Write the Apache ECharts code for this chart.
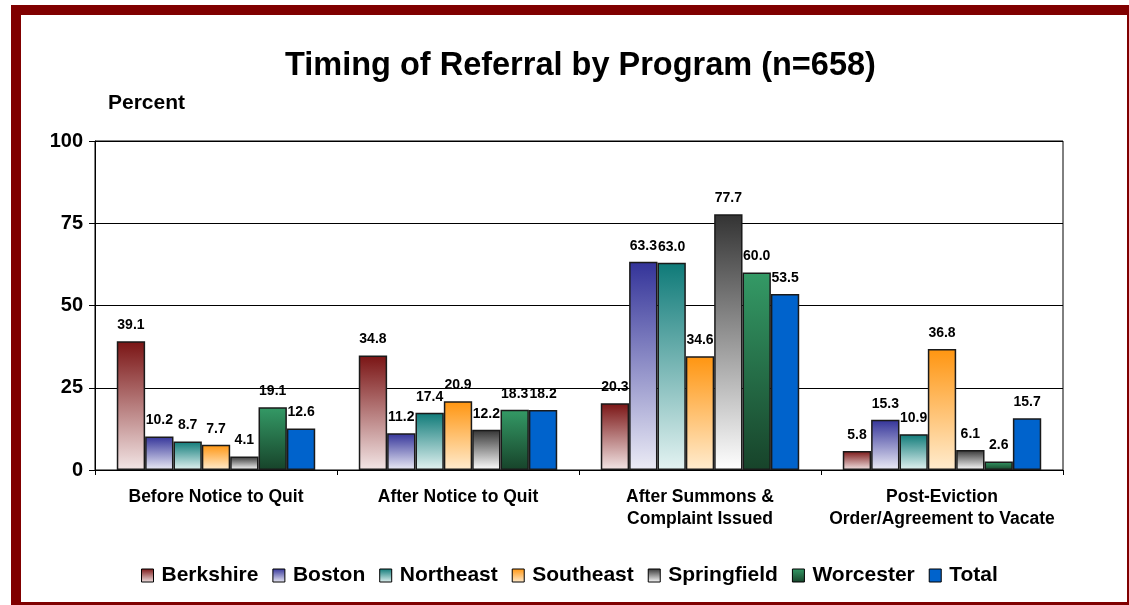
<!DOCTYPE html>
<html>
<head>
<meta charset="utf-8">
<script src="https://cdn.jsdelivr.net/npm/echarts@6/dist/echarts.min.js"></script>
<style>
  html, body { margin: 0; padding: 0; background: #fff; overflow: hidden; }
  #frame { position: absolute; left: 11px; top: 5px; width: 1126px; height: 607px;
           border: 10px solid #800000; box-sizing: border-box; }
  #chart { position: absolute; left: 0; top: 0; width: 1129px; height: 605px; }
</style>
</head>
<body>
<div id="frame"></div>
<div id="chart"></div>
<script>
// categories and series values
const categories = ['Before Notice to Quit', 'After Notice to Quit', 'After Summons &\nComplaint Issued', 'Post-Eviction\nOrder/Agreement to Vacate'];
const berkshire   = [39.1, 34.8, 20.3, 5.8];
const boston      = [10.2, 11.2, 63.3, 15.3];
const northeast   = [8.7, 17.4, 63.0, 10.9];
const southeast   = [7.7, 20.9, 34.6, 36.8];
const springfield = [4.1, 12.2, 77.7, 6.1];
const worcester   = [19.1, 18.3, 60.0, 2.6];
const total       = [12.6, 18.2, 53.5, 15.7];
const yTicks = [0, 25, 50, 75, 100];

const FONT = 'Liberation Sans';

const grad = (top, bottom) => new echarts.graphic.LinearGradient(0, 0, 0, 1, [
    { offset: 0, color: top }, { offset: 1, color: bottom }
]);

const seriesDefs = [
    { name: 'Berkshire', data: berkshire, color: grad('#7a1414', '#f3e6e6') },
    { name: 'Boston', data: boston, color: grad('#333399', '#ececf6') },
    { name: 'Northeast', data: northeast, color: grad('#0e7a78', '#e4f3f2') },
    { name: 'Southeast', data: southeast, color: grad('#ff9510', '#ffeccf') },
    { name: 'Springfield', data: springfield, color: grad('#333333', '#ffffff') },
    { name: 'Worcester', data: worcester, color: grad('#349a66', '#17432a') },
    { name: 'Total', data: total, color: '#0063cc' }
];

const chart = echarts.init(document.getElementById('chart'));

chart.setOption({
    animation: false,
    title: [
        {
            text: 'Timing of Referral by Program (n=658)',
            left: 280, top: 45,
            textStyle: { fontFamily: FONT, fontWeight: 'bold', fontSize: 32.5, color: '#000' }
        },
        {
            text: 'Percent',
            left: 103, top: 88,
            textStyle: { fontFamily: FONT, fontWeight: 'bold', fontSize: 21, color: '#000' }
        }
    ],
    grid: { left: 95, right: 66, top: 141, bottom: 135, show: true, borderColor: '#000', borderWidth: 1 },
    legend: {
        top: 560, left: 136,
        icon: 'rect',
        itemWidth: 12, itemHeight: 13, itemGap: 14,
        textStyle: { fontFamily: FONT, fontWeight: 'bold', fontSize: 21, color: '#000', padding: [0, 0, 0, 3] },
        itemStyle: { borderColor: '#000', borderWidth: 1 }
    },
    xAxis: {
        type: 'category',
        data: categories,
        axisLine: { lineStyle: { color: '#000' } },
        axisTick: { show: true, length: 5, lineStyle: { color: '#000' } },
        axisLabel: {
            interval: 0, hideOverlap: false,
            margin: 16, lineHeight: 22,
            fontFamily: FONT, fontWeight: 'bold', fontSize: 17.5, color: '#000'
        }
    },
    yAxis: {
        type: 'value',
        min: 0, max: 100, interval: 25,
        axisLine: { show: true, lineStyle: { color: '#000' } },
        axisTick: { show: true, length: 6, lineStyle: { color: '#000' } },
        splitLine: { lineStyle: { color: '#000' } },
        axisLabel: {
            margin: 12,
            fontFamily: FONT, fontWeight: 'bold', fontSize: 20, color: '#000',
            formatter: v => yTicks.includes(v) ? String(v) : ''
        }
    },
    series: seriesDefs.map(s => ({
        name: s.name,
        type: 'bar',
        data: s.data,
        barGap: '0%',
        barCategoryGap: '18%',
        itemStyle: { color: s.color, borderColor: '#1a1a1a', borderWidth: 1.5 },
        label: {
            show: true, position: 'top', distance: 9,
            formatter: p => p.value.toFixed(1),
            fontFamily: FONT, fontWeight: 'bold', fontSize: 14, color: '#000'
        }
    }))
});
</script>
</body>
</html>
